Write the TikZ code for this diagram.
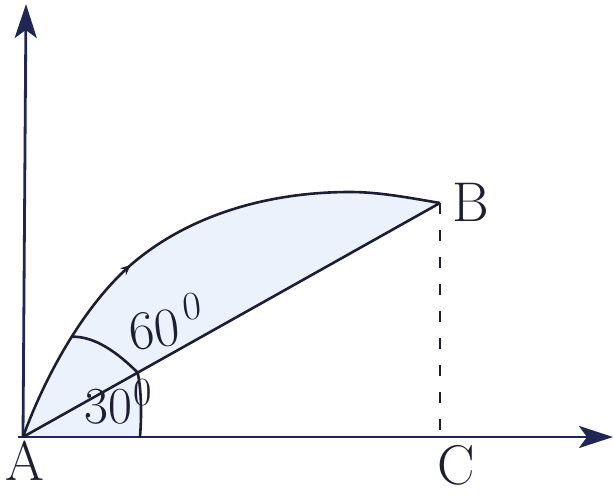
\documentclass[tikz,border=0pt]{standalone}
\usetikzlibrary{arrows.meta,decorations.markings,calc}
\definecolor{ink}{RGB}{30,30,50}
\definecolor{axisblue}{RGB}{32,38,84}
\definecolor{pale}{RGB}{236,242,252}
\begin{document}
\begin{tikzpicture}[x=1pt,y=1pt,
  axisline/.style={line width=2.8pt,draw=axisblue,-{Stealth[length=34pt,width=22pt,inset=8pt]}},
  thinline/.style={line width=2.6pt,draw=ink},
  dashline/.style={line width=2.8pt,draw=ink,dash pattern=on 11pt off 16pt},
  lbl/.style={font=\fontsize{56}{64}\selectfont,text=ink,inner sep=0pt},
  anglbl/.style={font=\fontsize{55}{64}\selectfont,text=ink,inner sep=0pt}]
\useasboundingbox (0,0) rectangle (614,496);
\coordinate (A) at (23,59);
\coordinate (B) at (440,293);
\coordinate (C) at (440,59);
\coordinate (Y) at (26,492);
\coordinate (X) at (613,59);
\coordinate (X0) at (18,59);
\coordinate (P) at ($(A)!0.275!(B)$);
\coordinate (R) at (140,59);
\coordinate (M1) at (133,233);
\coordinate (M2) at (350,304);
% fills
\fill[pale] (A) .. controls (47,125) and (87,194) .. (M1)
  .. controls (191,282) and (270,304) .. (M2)
  .. controls (380,304) and (410,298) .. (B) -- cycle;
\fill[pale] (A) -- (R) .. controls (142,85) and (141,108) .. (P) -- cycle;
% axes
\draw[axisline] (A) -- (Y);
\draw[axisline] (X0) -- (X);
% chord and dashed drop
\draw[thinline] (A) -- (B);
\draw[dashline] (B) -- (C);
% trajectory
\draw[thinline,decoration={markings,
    mark=at position 0.21 with {\coordinate (Q);},
    mark=at position 0.385 with {\arrow{Stealth[length=10pt,width=9pt]}}},postaction={decorate}]
  (A) .. controls (47,125) and (87,194) .. (M1)
  .. controls (191,282) and (270,304) .. (M2)
  .. controls (380,304) and (410,298) .. (B);
% angle arcs
\draw[thinline] (R) .. controls (142,85) and (141,108) .. (P);
\draw[thinline] (P) .. controls (118,143) and (95,160) .. (Q);
% labels
\node[lbl] (lA) at (25,35) {A};
\node[lbl] (lB) at (471,294) {B};
\node[lbl] (lC) at (456,31) {C};
\node[anglbl,anchor=base west,rotate=7] (l60) at (131,145) {60\hspace{6pt}\raisebox{24pt}{\fontsize{40}{44}\selectfont 0}};
\node[anglbl,anchor=base west,font=\fontsize{52}{60}\selectfont] (l30) at (84,72) {30\hspace{2pt}\raisebox{18pt}{\fontsize{40}{44}\selectfont 0}};
\end{tikzpicture}
\end{document}
